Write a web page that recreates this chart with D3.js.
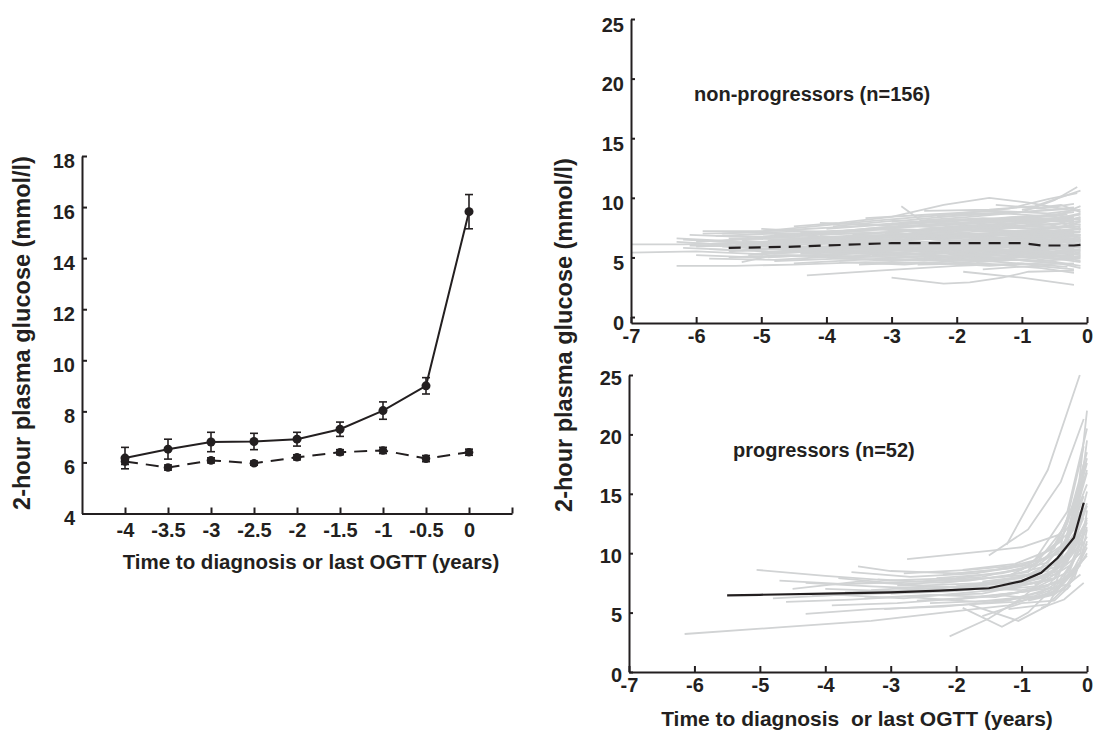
<!DOCTYPE html>
<html>
<head>
  <meta charset="utf-8">
  <title>2-hour plasma glucose before diagnosis</title>
  <script src="https://cdnjs.cloudflare.com/ajax/libs/d3/7.8.5/d3.min.js"></script>
  <style>
    body { margin: 0; background: #fff; }
    svg { display: block; font-family: "Liberation Sans", Arial, sans-serif; font-weight: bold; }
    .axis text { fill: #231f20; }
    .axis .domain, .axis line { stroke: #231f20; stroke-width: 2px; }
    .title { fill: #231f20; }
    .indiv { fill: none; stroke: #d1d3d4; stroke-width: 1.8px; }
  </style>
</head>
<body>
<script>
// ---- left panel: group means with error bars ----
var meanTimes = [-4, -3.5, -3, -2.5, -2, -1.5, -1, -0.5, 0];
var progMean = [6.17, 6.52, 6.8, 6.82, 6.91, 7.3, 8.03, 9.0, 15.82];
var progErr = [0.42, 0.39, 0.38, 0.32, 0.27, 0.28, 0.34, 0.32, 0.67];
var nonProgMean = [6.04, 5.8, 6.08, 5.97, 6.2, 6.4, 6.47, 6.15, 6.4];
var nonProgErr = [0.12, 0.1, 0.1, 0.08, 0.1, 0.1, 0.12, 0.12, 0.12];
var leftXTicks = [-4, -3.5, -3, -2.5, -2, -1.5, -1, -0.5, 0, 0.5];
var leftYTicks = [4, 6, 8, 10, 12, 14, 16, 18];

// ---- right panels: individual trajectories [years, mmol/l] ----
var nonProgLines = [
  [[-7.0,6.1],[-6.2,6.1],[-5.3,6.2],[-4.4,6.4],[-3.3,6.6],[-2.1,6.9],[-1.0,7.1],[-0.2,6.8]],
  [[-7.0,5.4],[-6.0,5.5],[-5.1,5.3],[-4.1,5.5],[-3.0,5.7],[-1.9,5.4],[-0.9,5.6],[-0.1,6.0]],
  [[-6.3,4.3],[-5.4,4.3],[-4.5,4.4],[-3.4,4.6],[-2.2,4.5],[-1.1,4.8],[-0.2,4.4]],
  [[-6.3,6.6],[-5.6,6.4],[-4.6,6.8],[-3.6,7.2],[-2.6,7.6],[-1.5,7.9],[-0.2,8.3]],
  [[-6.2,6.5],[-5.2,6.2],[-4.2,6.3],[-3.1,6.5],[-2.0,6.6],[-1.1,6.9],[-0.2,7.4]],
  [[-5.9,7.2],[-5.0,7.2],[-4.2,7.6],[-3.2,8.1],[-2.1,8.6],[-1.0,8.8],[-0.2,9.1]],
  [[-5.9,7.0],[-5.0,7.1],[-4.0,7.2],[-3.0,7.4],[-2.0,7.2],[-1.0,7.6],[-0.2,7.9]],
  [[-6.1,6.0],[-5.1,5.9],[-4.0,5.8],[-3.0,5.7],[-2.0,5.9],[-1.0,5.6],[-0.2,5.9]],
  [[-5.8,5.7],[-4.9,5.5],[-3.9,5.4],[-2.9,5.2],[-1.9,5.4],[-0.9,5.0],[-0.2,5.2]],
  [[-6.0,6.3],[-5.0,6.6],[-4.1,6.9],[-3.1,7.1],[-2.1,7.4],[-1.1,7.2],[-0.1,7.6]],
  [[-5.7,6.8],[-4.8,7.0],[-3.8,6.6],[-2.8,6.9],[-1.8,7.3],[-0.8,7.8],[-0.2,8.4]],
  [[-5.5,5.0],[-4.6,5.2],[-3.6,5.1],[-2.6,5.5],[-1.6,5.3],[-0.6,5.7],[-0.1,5.4]],
  [[-5.3,4.6],[-4.8,5.2],[-3.5,5.0],[-2.3,5.4],[-1.2,5.1],[-0.2,5.5]],
  [[-5.6,5.9],[-4.6,5.6],[-3.8,6.0],[-2.8,6.3],[-1.6,6.0],[-0.3,6.4]],
  [[-5.4,6.1],[-4.4,6.3],[-3.4,6.0],[-2.4,6.2],[-1.4,6.5],[-0.4,6.2],[-0.1,6.6]],
  [[-5.2,7.1],[-4.3,6.9],[-3.3,7.3],[-2.3,7.8],[-1.3,8.1],[-0.3,8.6]],
  [[-5.0,5.4],[-4.0,5.7],[-3.0,5.9],[-2.0,5.6],[-1.0,6.0],[-0.2,5.7]],
  [[-4.9,6.4],[-3.9,6.7],[-2.9,6.5],[-1.9,6.8],[-0.9,6.5],[-0.1,6.9]],
  [[-4.8,4.7],[-3.8,4.9],[-2.8,4.8],[-1.8,5.1],[-0.8,4.7],[-0.1,4.9]],
  [[-4.7,6.0],[-3.7,6.2],[-2.7,6.7],[-1.7,7.0],[-0.7,7.3],[-0.2,7.0]],
  [[-4.5,7.6],[-3.8,7.9],[-3.0,8.4],[-2.2,9.4],[-1.5,10.0],[-0.9,9.6],[-0.3,9.0]],
  [[-4.3,3.5],[-3.2,3.9],[-2.0,4.3],[-1.0,4.5],[-0.3,4.2]],
  [[-4.4,5.3],[-3.4,5.5],[-2.4,5.8],[-1.4,5.6],[-0.4,5.9]],
  [[-4.2,6.6],[-3.2,6.8],[-2.2,7.1],[-1.2,6.8],[-0.2,7.2]],
  [[-4.0,7.4],[-3.0,7.8],[-2.0,8.2],[-1.0,8.0],[-0.2,8.5]],
  [[-4.0,5.0],[-3.0,4.7],[-2.0,4.9],[-1.0,5.3],[-0.1,4.6]],
  [[-3.9,6.1],[-2.9,6.4],[-1.9,6.2],[-0.9,6.6],[-0.1,6.3]],
  [[-3.7,5.8],[-2.7,6.0],[-1.7,5.7],[-0.7,6.1],[-0.1,5.8]],
  [[-3.6,6.9],[-2.6,7.3],[-1.6,7.6],[-0.6,7.4],[-0.1,7.8]],
  [[-3.5,4.4],[-2.5,4.6],[-1.5,4.3],[-0.5,4.6],[-0.1,4.1]],
  [[-3.4,8.3],[-2.4,8.6],[-1.4,8.9],[-0.6,8.7],[-0.1,9.0]],
  [[-3.3,5.2],[-2.3,5.0],[-1.3,5.4],[-0.3,5.1]],
  [[-3.1,7.0],[-2.1,7.6],[-1.1,7.9],[-0.2,8.1]],
  [[-3.0,8.0],[-2.0,8.5],[-1.0,8.8],[-0.5,9.8],[-0.15,10.9]],
  [[-3.0,3.3],[-2.2,2.8],[-1.8,2.9],[-1.3,3.3],[-0.9,3.8],[-0.2,3.9]],
  [[-2.85,9.3],[-2.55,8.1],[-1.8,8.4],[-0.8,8.9],[-0.2,9.2]],
  [[-2.8,6.6],[-1.8,6.4],[-0.8,6.9],[-0.1,6.5]],
  [[-2.6,4.4],[-1.6,4.5],[-0.7,4.1],[-0.2,3.7]],
  [[-2.5,8.9],[-1.5,9.0],[-0.8,9.3],[-0.1,10.6]],
  [[-2.4,5.9],[-1.4,6.2],[-0.4,6.0],[-0.1,6.4]],
  [[-2.2,7.5],[-1.2,7.8],[-0.4,8.2],[-0.1,7.7]],
  [[-2.0,8.7],[-1.2,9.1],[-0.6,9.9],[-0.15,10.4]],
  [[-2.0,5.1],[-1.0,5.4],[-0.2,4.9]],
  [[-1.9,3.8],[-1.0,3.3],[-0.2,2.7]],
  [[-1.9,6.9],[-0.9,7.1],[-0.1,6.7]],
  [[-1.6,4.0],[-0.8,4.3],[-0.2,4.0]],
  [[-1.5,7.3],[-0.6,7.0],[-0.1,7.4]],
  [[-1.3,8.3],[-0.5,8.6],[-0.1,8.1]],
  [[-1.2,5.8],[-0.5,5.5],[-0.1,5.9]],
  [[-1.0,9.0],[-0.4,9.4],[-0.1,8.8]],
  [[-6.0,5.9],[-5.0,6.1],[-4.0,6.4],[-3.0,6.2],[-2.0,6.3],[-1.0,6.6],[-0.2,6.2]],
  [[-5.5,6.6],[-4.5,6.5],[-3.5,6.8],[-2.5,7.0],[-1.5,6.8],[-0.5,7.1],[-0.1,7.5]],
  [[-5.3,5.6],[-4.3,5.8],[-3.3,6.2],[-2.3,6.0],[-1.3,5.8],[-0.3,6.1]],
  [[-5.1,6.7],[-4.1,6.6],[-3.1,6.9],[-2.1,6.4],[-1.1,6.7],[-0.2,6.3]],
  [[-4.6,5.9],[-3.6,5.6],[-2.6,5.3],[-1.6,5.6],[-0.6,5.3],[-0.1,5.6]],
  [[-4.1,7.9],[-3.1,7.7],[-2.1,8.0],[-1.1,8.4],[-0.3,8.0]],
  [[-3.8,5.3],[-2.8,5.6],[-1.8,6.0],[-0.8,5.8],[-0.1,6.1]],
  [[-3.2,6.3],[-2.2,6.1],[-1.2,6.4],[-0.2,6.8]],
  [[-2.7,7.9],[-1.7,8.2],[-0.7,8.0],[-0.1,8.6]],
  [[-2.3,4.8],[-1.3,4.9],[-0.4,4.5]],
  [[-1.8,5.5],[-0.8,5.2],[-0.1,5.0]],
  [[-1.4,9.4],[-0.7,9.1],[-0.2,9.5]],
  [[-6.3,6.3],[-5.4,6.0],[-4.4,6.1],[-3.4,6.4],[-2.4,6.3],[-1.4,6.0],[-0.3,6.5]],
  [[-6.2,5.8],[-5.3,5.6],[-4.3,5.9],[-3.3,5.8],[-2.3,6.1],[-1.3,6.3],[-0.2,6.0]],
  [[-6.1,6.9],[-5.2,6.7],[-4.2,7.0],[-3.2,7.5],[-2.2,7.7],[-1.2,8.2],[-0.1,8.0]],
  [[-6.0,5.2],[-5.1,5.0],[-4.1,5.2],[-3.1,5.4],[-2.1,5.1],[-1.1,5.5],[-0.2,5.3]],
  [[-5.9,6.4],[-4.9,6.2],[-3.9,6.5],[-2.9,6.8],[-1.9,7.0],[-0.9,6.8],[-0.1,7.1]],
  [[-5.8,4.9],[-4.8,4.8],[-3.8,5.1],[-2.8,5.0],[-1.8,4.7],[-0.8,5.1],[-0.2,4.8]],
  [[-5.7,6.1],[-4.7,6.4],[-3.7,6.3],[-2.7,6.0],[-1.7,6.3],[-0.7,6.7],[-0.1,6.4]],
  [[-5.6,7.0],[-4.6,7.3],[-3.6,7.6],[-2.6,8.0],[-1.6,8.3],[-0.6,8.1],[-0.1,8.7]],
  [[-5.5,5.5],[-4.5,5.8],[-3.5,5.6],[-2.5,5.8],[-1.5,6.1],[-0.5,5.9],[-0.1,6.2]],
  [[-5.4,6.8],[-4.4,6.6],[-3.4,6.9],[-2.4,6.6],[-1.4,7.0],[-0.4,7.3]],
  [[-5.3,6.4],[-4.3,6.1],[-3.3,6.6],[-2.3,6.9],[-1.3,6.6],[-0.3,6.9]],
  [[-5.2,5.2],[-4.2,5.5],[-3.2,5.3],[-2.2,5.7],[-1.2,5.5],[-0.2,5.8]],
  [[-5.1,6.0],[-4.1,5.8],[-3.1,6.1],[-2.1,6.0],[-1.1,6.2],[-0.1,5.9]],
  [[-5.0,7.4],[-4.0,7.1],[-3.0,7.6],[-2.0,7.9],[-1.0,8.3],[-0.2,8.8]],
  [[-4.9,5.0],[-3.9,5.3],[-2.9,5.6],[-1.9,5.2],[-0.9,5.5],[-0.1,5.2]],
  [[-4.8,6.9],[-3.8,7.2],[-2.8,7.0],[-1.8,7.5],[-0.8,7.1],[-0.1,7.4]],
  [[-4.7,5.7],[-3.7,5.5],[-2.7,5.8],[-1.7,6.1],[-0.7,5.7],[-0.1,6.0]],
  [[-4.6,6.5],[-3.6,6.4],[-2.6,6.2],[-1.6,6.5],[-0.6,6.8],[-0.1,6.5]],
  [[-4.5,4.5],[-3.5,4.8],[-2.5,5.1],[-1.5,4.9],[-0.5,5.2],[-0.1,4.7]],
  [[-4.4,7.1],[-3.4,7.0],[-2.4,7.4],[-1.4,7.7],[-0.4,7.5],[-0.1,8.0]],
  [[-4.3,6.0],[-3.3,5.7],[-2.3,6.3],[-1.3,6.1],[-0.3,5.8]],
  [[-4.2,5.6],[-3.2,6.0],[-2.2,5.6],[-1.2,5.9],[-0.2,6.3]],
  [[-4.1,6.8],[-3.1,6.3],[-2.1,6.7],[-1.1,7.1],[-0.1,6.9]],
  [[-3.9,7.6],[-2.9,8.1],[-1.9,7.8],[-0.9,8.3],[-0.1,8.2]],
  [[-3.8,4.6],[-2.8,4.4],[-1.8,4.8],[-0.8,4.4],[-0.2,4.5]],
  [[-3.7,6.5],[-2.7,6.9],[-1.7,6.6],[-0.7,6.3],[-0.1,6.7]],
  [[-3.5,5.4],[-2.5,5.2],[-1.5,5.7],[-0.5,5.4],[-0.1,5.7]],
  [[-3.4,7.4],[-2.4,7.1],[-1.4,7.4],[-0.4,7.9],[-0.1,7.3]],
  [[-3.2,5.9],[-2.2,6.4],[-1.2,6.0],[-0.2,6.5]],
  [[-3.1,4.9],[-2.1,4.7],[-1.1,5.0],[-0.2,5.4]],
  [[-2.9,7.7],[-1.9,7.4],[-0.9,7.9],[-0.1,8.3]],
  [[-2.8,5.5],[-1.8,5.8],[-0.8,5.5],[-0.1,5.3]],
  [[-2.6,6.8],[-1.6,7.2],[-0.6,6.9],[-0.1,7.2]],
  [[-2.5,5.0],[-1.5,5.2],[-0.5,4.9],[-0.1,5.1]],
  [[-2.3,8.4],[-1.3,8.7],[-0.5,8.4],[-0.1,9.3]],
  [[-2.1,6.2],[-1.1,5.9],[-0.3,6.3]],
  [[-1.9,7.6],[-0.9,7.4],[-0.2,7.7]],
  [[-1.7,4.6],[-0.8,4.9],[-0.1,4.3]],
  [[-1.5,6.6],[-0.6,6.4],[-0.1,6.9]],
  [[-1.3,5.6],[-0.5,6.0],[-0.1,5.5]],
  [[-1.1,8.0],[-0.5,7.7],[-0.1,8.4]]
];
var nonProgTrend = [[-5.5,5.8],[-4.5,5.9],[-4.0,6.0],[-3.0,6.2],[-1.0,6.2],[-0.7,6.0],[-0.2,6.0],[0,6.1]];

var progLines = [
  [[-6.15,3.2],[-4.6,3.8],[-3.3,4.3],[-2.2,5.0],[-1.2,5.6],[-0.5,6.8],[-0.05,9.5]],
  [[-5.05,8.6],[-4.0,8.1],[-3.0,7.7],[-2.0,7.9],[-1.0,8.6],[-0.4,11.0],[-0.05,16.5]],
  [[-4.7,7.7],[-3.7,7.4],[-2.6,7.6],[-1.6,8.0],[-0.8,9.0],[-0.3,12.5],[0,18.5]],
  [[-4.6,5.9],[-3.6,6.1],[-2.6,6.4],[-1.6,6.6],[-0.7,7.6],[-0.2,10.2],[0,13.0]],
  [[-4.3,4.9],[-3.3,5.3],[-2.2,5.5],[-1.2,6.0],[-0.4,7.3],[0,9.8]],
  [[-4.3,7.5],[-3.3,7.2],[-2.3,7.0],[-1.3,7.6],[-0.5,8.8],[-0.1,13.5]],
  [[-4.2,6.4],[-3.2,6.6],[-2.2,6.9],[-1.2,7.3],[-0.5,8.4],[-0.05,12.0]],
  [[-4.0,7.0],[-3.0,6.8],[-2.0,7.2],[-1.0,7.9],[-0.4,9.6],[-0.05,14.8]],
  [[-3.9,5.6],[-2.9,5.8],[-1.9,6.2],[-0.9,6.8],[-0.3,8.4],[0,11.4]],
  [[-3.6,8.4],[-2.7,8.0],[-1.7,8.3],[-0.9,9.0],[-0.3,11.6],[0,17.0]],
  [[-3.5,8.9],[-3.0,8.5],[-2.0,8.3],[-1.2,8.7],[-0.6,9.6],[-0.1,15.0]],
  [[-3.4,6.2],[-2.4,6.5],[-1.4,6.3],[-0.6,7.2],[-0.1,10.8]],
  [[-3.2,7.8],[-2.2,7.5],[-1.2,8.1],[-0.4,10.2],[0,15.8]],
  [[-3.1,5.3],[-2.1,5.6],[-1.1,5.9],[-0.5,6.6],[-0.1,9.0]],
  [[-3.0,6.6],[-2.0,6.8],[-1.0,7.4],[-0.4,8.6],[-0.05,13.0]],
  [[-2.9,7.3],[-1.9,7.1],[-0.9,7.7],[-0.3,9.8],[0,14.2]],
  [[-2.75,9.5],[-1.5,10.2],[-1.0,10.5],[-0.4,11.6],[-0.05,16.2]],
  [[-2.6,6.0],[-1.6,6.3],[-0.8,6.9],[-0.3,8.0],[0,12.2]],
  [[-2.5,7.6],[-1.5,7.9],[-0.7,8.3],[-0.2,11.0],[0,19.5]],
  [[-2.4,5.8],[-1.4,6.0],[-0.6,6.4],[-0.15,8.6]],
  [[-2.2,8.2],[-1.4,8.6],[-0.8,9.4],[-0.3,13.5],[0,20.5]],
  [[-2.1,3.0],[-1.5,4.5],[-1.0,6.2],[-0.5,8.6],[-0.1,14.0]],
  [[-2.0,6.9],[-1.2,7.1],[-0.5,7.8],[-0.1,11.5]],
  [[-1.9,5.4],[-1.3,3.8],[-0.9,5.0],[-0.5,7.2],[-0.1,12.8]],
  [[-1.8,5.7],[-1.05,4.3],[-0.6,5.6],[-0.2,9.5]],
  [[-1.7,7.0],[-1.0,6.9],[-0.45,7.5],[-0.15,9.8]],
  [[-1.6,4.7],[-1.0,5.8],[-0.5,6.0],[-0.25,7.3]],
  [[-1.5,9.8],[-0.9,12.0],[-0.4,16.0],[-0.05,21.3]],
  [[-1.23,10.7],[-0.6,17.0],[-0.11,25.0]],
  [[-1.4,6.5],[-0.8,6.2],[-0.3,7.0],[0,10.5]],
  [[-1.3,8.0],[-0.7,8.8],[-0.3,11.0],[0,16.8]],
  [[-1.2,5.3],[-0.6,5.7],[-0.2,7.8],[0,11.0]],
  [[-1.1,7.4],[-0.6,8.0],[-0.2,10.8],[0,15.2]],
  [[-0.9,6.0],[-0.5,6.5],[-0.1,8.2]],
  [[-0.8,7.3],[-0.4,8.9],[0,12.8]],
  [[-0.7,5.4],[-0.35,6.1],[-0.05,7.5]],
  [[-4.8,6.2],[-3.8,6.5],[-2.8,6.2],[-1.8,6.7],[-0.8,7.2],[-0.25,9.0],[0,12.6]],
  [[-4.5,7.0],[-3.5,7.6],[-2.5,7.3],[-1.5,7.5],[-0.6,8.5],[-0.15,12.0]],
  [[-3.8,7.9],[-2.8,7.4],[-1.8,7.7],[-0.9,8.4],[-0.35,10.6],[0,18.0]],
  [[-3.3,6.9],[-2.3,7.2],[-1.3,7.0],[-0.5,7.9],[-0.1,11.2]],
  [[-2.7,6.3],[-1.7,5.9],[-0.8,6.4],[-0.3,7.4],[0,10.0]],
  [[-2.3,7.9],[-1.3,8.3],[-0.6,9.2],[-0.2,12.0],[0,22.0]],
  [[-1.9,8.6],[-1.1,9.1],[-0.5,10.4],[-0.1,15.5]],
  [[-1.0,7.7],[-0.5,8.2],[-0.1,10.0],[0,13.6]],
  [[-0.6,9.8],[-0.25,12.5],[0,17.6]],
  [[-3.7,6.7],[-2.7,6.9],[-1.7,7.3],[-0.8,7.8],[-0.3,9.2],[0,14.0]],
  [[-2.8,8.3],[-1.8,8.6],[-1.0,9.0],[-0.4,10.0],[-0.05,13.8]],
  [[-2.0,6.1],[-1.2,6.6],[-0.5,7.1],[-0.1,9.3],[0,12.0]],
  [[-1.6,7.6],[-0.9,8.1],[-0.4,9.3],[-0.05,17.5]],
  [[-1.4,5.9],[-0.7,6.7],[-0.25,8.2],[0,10.8]],
  [[-0.9,8.6],[-0.4,10.6],[-0.05,19.0]]
];
var progTrend = [[-5.5,6.45],[-5.0,6.5],[-4.0,6.6],[-3.0,6.7],[-2.25,6.85],[-1.5,7.05],[-1.0,7.65],[-0.7,8.35],[-0.45,9.6],[-0.2,11.3],[-0.05,14.25]];

var rightXTicks = [-7, -6, -5, -4, -3, -2, -1, 0];
var rightYTicks = [0, 5, 10, 15, 20, 25];

var yTitle = "2-hour plasma glucose (mmol/l)";
var xTitleLeft = "Time to diagnosis or last OGTT (years)";
var xTitleRight = "Time to diagnosis\u00a0 or last OGTT (years)";
var labelTop = "non-progressors (n=156)";
var labelBottom = "progressors (n=52)";

var ink = "#231f20";
var fmt = function(d) { return String(d); };

var svg = d3.select("body").append("svg")
  .attr("width", 1093)
  .attr("height", 738);

function styleAxis(g, size) {
  g.attr("class", "axis")
    .attr("font-family", null)
    .attr("font-size", size)
    .attr("font-weight", "bold");
}

// ================= left panel =================
var xL = d3.scaleLinear().domain([-4.5, 0.5]).range([82, 512]);
var yL = d3.scaleLinear().domain([4, 18]).range([513.5, 156]);

svg.append("g")
  .attr("transform", "translate(0,513.5)")
  .call(d3.axisBottom(xL).tickValues(leftXTicks).tickSizeInner(-6).tickSizeOuter(0).tickPadding(9)
    .tickFormat(function(d) { return d === 0.5 ? "" : fmt(d); }))
  .call(styleAxis, 20);

svg.append("g")
  .attr("transform", "translate(82,0)")
  .call(d3.axisLeft(yL).tickValues(leftYTicks).tickSizeInner(-5).tickSizeOuter(0).tickPadding(7).tickFormat(fmt))
  .call(styleAxis, 20)
  .selectAll("text").attr("dy", "0.55em");

var meanRows = meanTimes.map(function(t, i) {
  return { t: t, p: progMean[i], pe: progErr[i], n: nonProgMean[i], ne: nonProgErr[i] };
});

var lineL = function(key) {
  return d3.line().x(function(d) { return xL(d.t); }).y(function(d) { return yL(d[key]); });
};

function errorBars(key, errKey) {
  var g = svg.append("g").attr("stroke", ink).attr("stroke-width", 1.6);
  g.selectAll("line.v").data(meanRows).enter().append("line")
    .attr("x1", function(d) { return xL(d.t); }).attr("x2", function(d) { return xL(d.t); })
    .attr("y1", function(d) { return yL(d[key] - d[errKey]); })
    .attr("y2", function(d) { return yL(d[key] + d[errKey]); });
  [-1, 1].forEach(function(s) {
    g.selectAll("line.c" + s).data(meanRows).enter().append("line")
      .attr("x1", function(d) { return xL(d.t) - 4; }).attr("x2", function(d) { return xL(d.t) + 4; })
      .attr("y1", function(d) { return yL(d[key] + s * d[errKey]); })
      .attr("y2", function(d) { return yL(d[key] + s * d[errKey]); });
  });
}

svg.append("path").datum(meanRows)
  .attr("fill", "none").attr("stroke", ink).attr("stroke-width", 2)
  .attr("stroke-dasharray", "13,8")
  .attr("d", lineL("n"));
errorBars("n", "ne");
svg.append("g").selectAll("circle").data(meanRows).enter().append("circle")
  .attr("cx", function(d) { return xL(d.t); }).attr("cy", function(d) { return yL(d.n); })
  .attr("r", 4.3).attr("fill", ink);

svg.append("path").datum(meanRows)
  .attr("fill", "none").attr("stroke", ink).attr("stroke-width", 2)
  .attr("d", lineL("p"));
errorBars("p", "pe");
svg.append("g").selectAll("circle").data(meanRows).enter().append("circle")
  .attr("cx", function(d) { return xL(d.t); }).attr("cy", function(d) { return yL(d.p); })
  .attr("r", 4.5).attr("fill", ink);

svg.append("text").attr("class", "title")
  .attr("transform", "translate(30,333) rotate(-90)")
  .attr("text-anchor", "middle").attr("font-size", 23.5)
  .text(yTitle);

svg.append("text").attr("class", "title")
  .attr("x", 311).attr("y", 569)
  .attr("text-anchor", "middle").attr("font-size", 20.5)
  .text(xTitleLeft);

// ================= right panels =================
function spaghetti(opts) {
  var x = d3.scaleLinear().domain([-7, 0]).range([opts.x0, 1087]);
  var y = d3.scaleLinear().domain([opts.ymin, 25]).range([opts.ybot, opts.ytop]);
  var line = d3.line().x(function(d) { return x(d[0]); }).y(function(d) { return y(d[1]); });

  svg.append("g").selectAll("path").data(opts.lines).enter().append("path")
    .attr("class", "indiv").attr("d", line);

  svg.append("path").datum(opts.trend)
    .attr("fill", "none").attr("stroke", ink).attr("stroke-width", 2.2)
    .attr("stroke-dasharray", opts.dash)
    .attr("d", line);

  svg.append("g")
    .attr("transform", "translate(0," + opts.ybot + ")")
    .call(d3.axisBottom(x).tickValues(rightXTicks).tickSizeInner(-6).tickSizeOuter(0).tickPadding(6).tickFormat(fmt))
    .call(styleAxis, 20);

  svg.append("g")
    .attr("transform", "translate(" + opts.x0 + ",0)")
    .call(d3.axisLeft(y).tickValues(rightYTicks).tickSizeInner(-4).tickSizeOuter(0).tickPadding(7).tickFormat(fmt))
    .call(styleAxis, 20)
    .selectAll("text").attr("dy", opts.labelDy);

  svg.append("text").attr("class", "title")
    .attr("x", opts.labelX).attr("y", opts.labelY)
    .attr("font-size", 20)
    .text(opts.label);
}

spaghetti({
  lines: nonProgLines, trend: nonProgTrend, dash: "12,8",
  x0: 631, ymin: -0.5, ybot: 323, ytop: 19, labelDy: "0.6em",
  label: labelTop, labelX: 694, labelY: 101
});

spaghetti({
  lines: progLines, trend: progTrend, dash: null,
  x0: 629, ymin: 0, ybot: 672, ytop: 375, labelDy: "0.45em",
  label: labelBottom, labelX: 733, labelY: 457
});

svg.append("text").attr("class", "title")
  .attr("transform", "translate(572,335) rotate(-90)")
  .attr("text-anchor", "middle").attr("font-size", 23.5)
  .text(yTitle);

svg.append("text").attr("class", "title")
  .attr("x", 857).attr("y", 726)
  .attr("text-anchor", "middle").attr("font-size", 21)
  .text(xTitleRight);
</script>
</body>
</html>
